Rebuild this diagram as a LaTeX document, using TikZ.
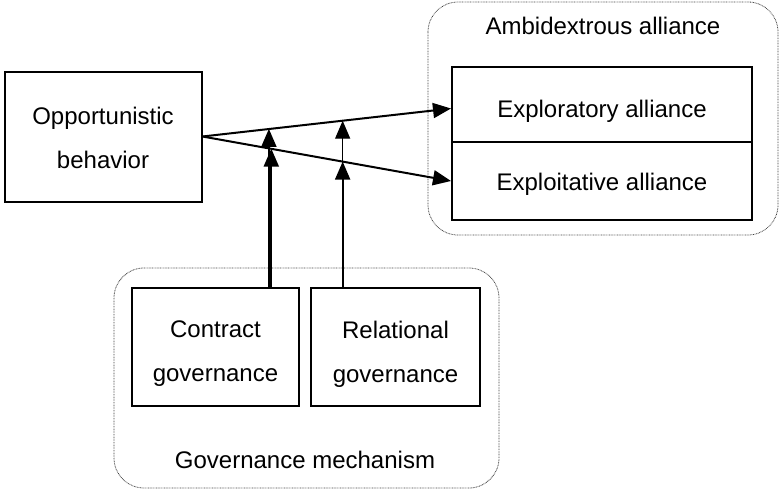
\documentclass[tikz,border=0pt]{standalone}
\usepackage{fontspec}
\setmainfont{Liberation Sans}
\usetikzlibrary{arrows.meta}
\tikzset{
	blockbox/.style={draw, line width=2pt, inner sep=0pt},
	blocktext/.style={align=center, yshift=#1},
	groupbox/.style={draw=black!75, line width=0.8pt, dash pattern=on 0.8pt off 0.8pt, rounded corners=30pt},
	link/.style={line width=2pt, -{Triangle[length=18pt, width=15pt]}},
}

\begin{document}
\begin{tikzpicture}[x=1pt, y=-1pt, font=\fontsize{24}{44}\selectfont]
		%%%%% START %%%%%
		\useasboundingbox (0, 0) rectangle (780, 490);
		
		\draw[groupbox] (428, 2) rectangle (778, 235);
		\node (ambi) at (603, 26) {Ambidextrous alliance};
		\draw[groupbox] (114, 268) rectangle (499, 488);
		\node (gov) at (305, 460) {Governance mechanism};
		
		\node[blockbox, minimum width=197pt, minimum height=130pt, label={[blocktext=-1pt]center:Opportunistic\\behavior}] (opp) at (103, 136.5) {};
		\node[blockbox, minimum width=300pt, minimum height=75pt, label={[blocktext=-7pt]center:Exploratory alliance}] (explor) at (602, 104.5) {};
		\node[blockbox, minimum width=300pt, minimum height=78pt, label={[blocktext=-3pt]center:Exploitative alliance}] (exploit) at (602, 181) {};
		\node[blockbox, minimum width=167pt, minimum height=118pt, label={[blocktext=-7pt]center:Contract\\governance}] (contract) at (215.5, 347) {};
		\node[blockbox, minimum width=169pt, minimum height=118pt, label={[blocktext=-7pt]center:Relational\\governance}] (relation) at (395.5, 347) {};
		
		\draw[link] (opp.east) -- coordinate[pos=0.272] (up1) coordinate[pos=0.564] (up2) ([yshift=-4pt]explor.west);
		\draw[link] (opp.east) -- coordinate[pos=0.272] (lo1) coordinate[pos=0.564] (lo2) (exploit.west);
		
		\draw[link] ([xshift=-1.2pt]up1 |- contract.north) -- ([xshift=-1.2pt]up1);
		\draw[link] ([xshift=1.2pt]lo1 |- contract.north) -- ([xshift=1.2pt]lo1);
		\draw[link, line width=1.4pt] (up2 |- relation.north) -- (up2);
		\draw[link] (lo2 |- relation.north) -- (lo2);
		%%%%% END %%%%%
	\end{tikzpicture}
\end{document}
